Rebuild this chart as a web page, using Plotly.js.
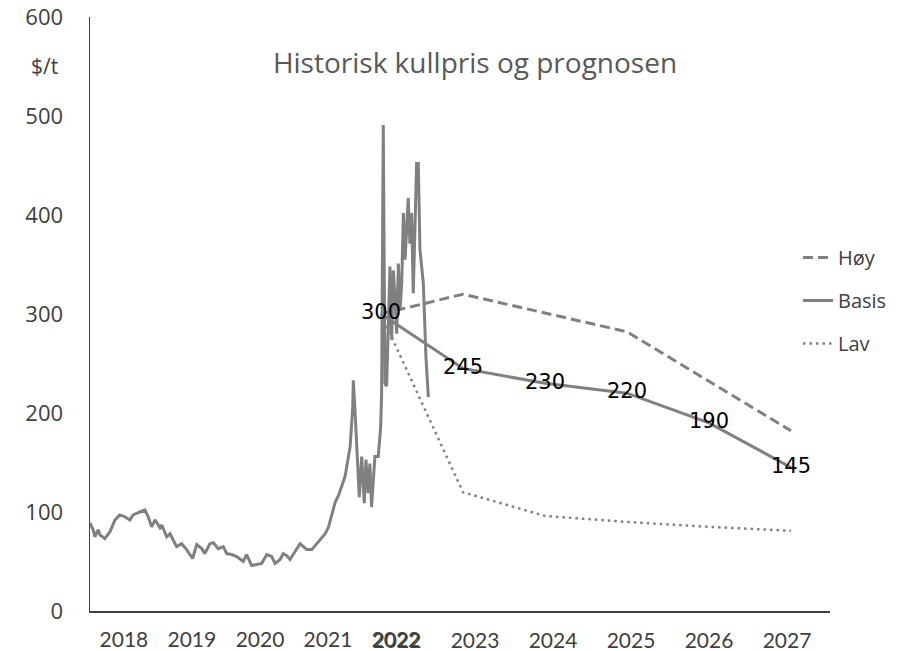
<!DOCTYPE html>
<html>
<head>
<meta charset="utf-8">
<script src="https://cdn.plot.ly/plotly-3.0.1.min.js"></script>
<style>html,body{margin:0;padding:0;background:#fff;}#chart{width:907px;height:651px;}</style>
</head>
<body>
<div id="chart"></div>
<script>
// Historical coal price ($/t)
const histDates = [
 '2018-01-01','2018-01-18','2018-01-27','2018-02-14','2018-02-23','2018-03-22','2018-04-18','2018-05-15','2018-06-10','2018-07-08',
 '2018-08-03','2018-08-21','2018-09-26','2018-10-23','2018-11-10','2018-11-28','2018-12-16','2019-01-12','2019-01-21','2019-02-17',
 '2019-03-07','2019-04-11','2019-05-08','2019-06-04','2019-07-06','2019-07-28','2019-08-24','2019-09-10','2019-10-07','2019-10-25',
 '2019-11-21','2019-12-18','2020-01-05','2020-02-01','2020-02-28','2020-04-03','2020-04-21','2020-05-18','2020-06-14','2020-07-11',
 '2020-08-07','2020-09-03','2020-09-21','2020-10-18','2020-11-04','2020-11-22','2020-12-10','2021-01-06','2021-02-02','2021-02-20',
 '2021-03-10','2021-04-06','2021-05-03','2021-05-30','2021-06-17','2021-07-05','2021-07-23','2021-08-10','2021-08-28','2021-09-15',
 '2021-10-02','2021-10-20','2021-10-29','2021-11-12','2021-11-15','2021-11-24','2021-12-03','2021-12-17','2021-12-30','2022-01-13',
 '2022-01-22','2022-02-03','2022-02-12','2022-02-21','2022-03-11','2022-03-29','2022-04-11','2022-04-16','2022-04-25','2022-05-04',
 '2022-05-13','2022-05-22','2022-05-31','2022-06-09','2022-06-18','2022-06-27','2022-07-06','2022-07-15','2022-07-24','2022-08-02',
 '2022-08-11','2022-08-20','2022-09-06','2022-09-15','2022-09-24','2022-10-03','2022-10-21','2022-10-30','2022-11-08','2022-11-17',
 '2022-11-26','2022-12-10','2022-12-23'
];
const histValues = [
 89,82,75,82,77,73,80,92,97,95,
 92,97,100,102,95,85,92,84,87,75,
 78,65,68,62,53,67,63,58,68,69,
 63,65,58,57,55,50,57,46,47,48,
 57,55,48,52,58,56,52,60,68,65,
 62,62,68,73,78,85,97,110,117,126,
 136,156,166,206,233,203,166,115,156,109,
 153,119,149,105,156,156,186,220,491,230,
 227,300,348,274,344,317,280,351,304,330,
 402,355,417,371,402,321,452,452,365,348,
 331,257,216
];

// Forecast
const forecastYears = [2022, 2023, 2024, 2025, 2026, 2027];
const hoy   = [300, 320, 301, 282, 232, 182];
const basis = [300, 245, 230, 220, 190, 145];
const lav   = [300, 120, 96, 90, 85, 81];
const basisLabels = basis.map(String);

// Axis labels
const histYears = [2018, 2019, 2020, 2021, 2022];
const labelYears = [2022, 2023, 2024, 2025, 2026, 2027];

const grey = '#808080';
const traces = [
  {x: histDates, y: histValues, type: 'scatter', mode: 'lines', xaxis: 'x', yaxis: 'y',
   line: {color: grey, width: 3}, showlegend: false, hoverinfo: 'skip'},
  {x: forecastYears, y: hoy, type: 'scatter', mode: 'lines', name: 'Høy', xaxis: 'x2', yaxis: 'y',
   line: {color: grey, width: 3, dash: '10px,5px'}, legendgroup: 'a'},
  {x: forecastYears, y: basis, type: 'scatter', mode: 'lines+text', name: 'Basis', xaxis: 'x2', yaxis: 'y',
   text: basisLabels, textposition: 'middle center', textfont: {family: 'DejaVu Sans', size: 21, color: '#000'},
   line: {color: grey, width: 3}, legendgroup: 'b'},
  {x: forecastYears, y: lav, type: 'scatter', mode: 'lines', name: 'Lav', xaxis: 'x2', yaxis: 'y',
   line: {color: grey, width: 2.5, dash: '2.5px,4px'}, legendgroup: 'c'},
  {x: labelYears, y: basis, type: 'scatter', mode: 'markers', xaxis: 'x3', yaxis: 'y',
   marker: {opacity: 0, size: 1}, showlegend: false, hoverinfo: 'skip'}
];

const histEnd = new Date(Date.UTC(2018,0,1) + (740/68)*365.25*86400000).toISOString().slice(0,10);

const tickFontX = {family: 'Lato, Open Sans, sans-serif', size: 21, color: '#404040'};
const layout = {
  width: 907, height: 651,
  margin: {l: 90, r: 77, t: 17, b: 40},
  paper_bgcolor: '#fff', plot_bgcolor: '#fff',
  showlegend: true,
  title: {text: 'Historisk kullpris og prognosen', x: 475/907, xref: 'container', xanchor: 'center',
          y: 1 - 63/651, yref: 'container', yanchor: 'middle',
          font: {family: 'Open Sans, sans-serif', size: 28, color: '#595959'}},
  xaxis: {type: 'date', range: ['2018-01-01', histEnd], showgrid: false, zeroline: false,
          showline: true, linecolor: '#404040', linewidth: 1.5,
          tickvals: histYears.map(y => y + '-07-02'), ticktext: histYears.map(String),
          ticks: '', ticklabelstandoff: 9, tickfont: tickFontX},
  xaxis2: {type: 'linear', overlaying: 'x', anchor: 'y', range: [2018.451, 2027.476],
           showgrid: false, zeroline: false, showline: false, showticklabels: false, ticks: ''},
  xaxis3: {type: 'linear', overlaying: 'x', anchor: 'y', range: [2018.064, 2027.551],
           showgrid: false, zeroline: false, showline: false, ticks: '',
           tickvals: labelYears, ticktext: labelYears.map(String),
           ticklabelstandoff: 15, tickfont: tickFontX},
  yaxis: {range: [0, 600], tickvals: [0,100,200,300,400,500,600], showgrid: false, zeroline: false,
          showline: true, linecolor: '#404040', linewidth: 1.5, ticks: '', ticklabelstandoff: 21,
          tickfont: {family: 'Open Sans, sans-serif', size: 22, color: '#404040'}},
  legend: {x: (798-90)/740, xanchor: 'left', y: (611-238)/594, yanchor: 'top',
           traceorder: 'grouped', tracegroupgap: 14, bgcolor: 'rgba(0,0,0,0)',
           font: {family: 'Open Sans, sans-serif', size: 20, color: '#404040'}},
  annotations: [{text: '$/t', xref: 'paper', yref: 'paper', x: (44-90)/740, y: (611-66)/594,
                 xanchor: 'center', yanchor: 'middle', showarrow: false,
                 font: {family: 'Open Sans, sans-serif', size: 21, color: '#404040'}}]
};

Plotly.newPlot('chart', traces, layout, {displayModeBar: false, staticPlot: true});
</script>
</body>
</html>
